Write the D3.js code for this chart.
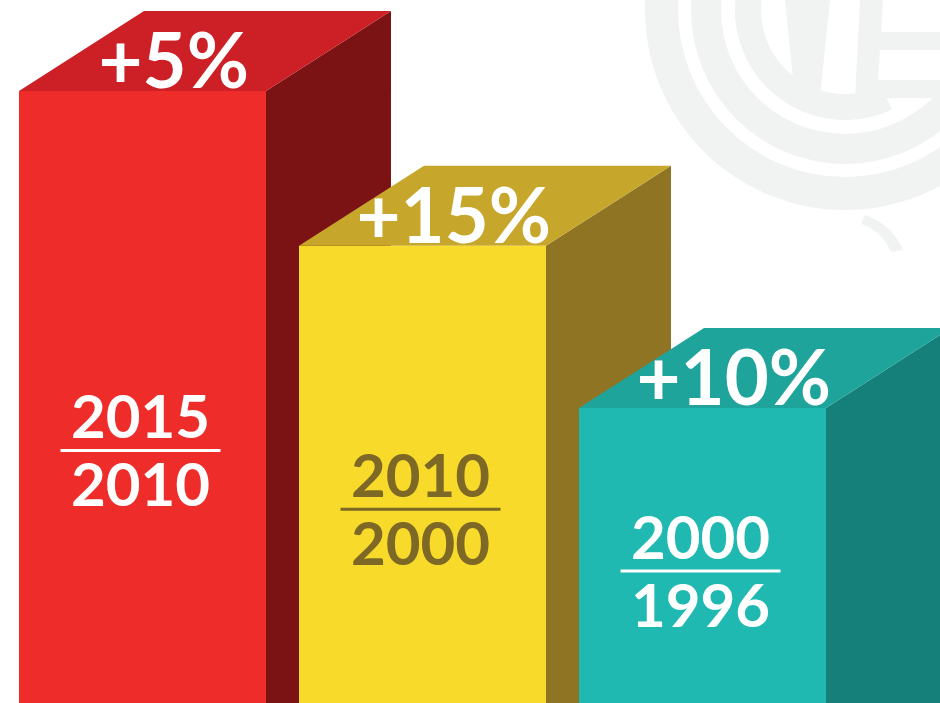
<!DOCTYPE html>
<html>
<head>
<meta charset="utf-8">
<script src="https://cdn.jsdelivr.net/npm/d3@7"></script>
<style>
  html, body { margin: 0; padding: 0; background: #fff; }
  svg { display: block; }
</style>
</head>
<body>
<div id="viz"></div>
<script>
const width = 940;
const height = 703;

// data
const categories = ['2015/2010', '2010/2000', '2000/1996'];
const changes = ['+5%', '+15%', '+10%'];
const barLevel = [100, 74.7, 48.2];
const topYears = ['2015', '2010', '2000'];
const bottomYears = ['2010', '2000', '1996'];

const frontColors = ['#ee2d2b', '#f8da2b', '#1fb9b1'];
const topColors = ['#cc1f26', '#c6a72b', '#1fa49c'];
const sideColors = ['#7b1315', '#8f7424', '#148079'];
const labelColors = ['#ffffff', '#7d6826', '#ffffff'];

const depth = { dx: 125, dy: 80 };

const svg = d3.select('#viz')
  .append('svg')
    .attr('width', width)
    .attr('height', height);

// faint logo watermark in the corner
const logo = svg.append('g')
    .attr('transform', 'translate(845, 10)')
    .attr('fill', '#f1f2f2');

const rings = [
  { r0: 167, r1: 200, a0: 0, a1: 2 * Math.PI },
  { r0: 124, r1: 154, a0: 0, a1: 2 * Math.PI },
  { r0: 84, r1: 110, a0: 2.7, a1: 6.0 }
];
logo.selectAll('path.ring')
  .data(rings)
  .join('path')
    .attr('class', 'ring')
    .attr('d', d => d3.arc()({ innerRadius: d.r0, outerRadius: d.r1, startAngle: d.a0, endAngle: d.a1 }));

// letter strokes inside the rings
logo.append('path')
    .attr('d', 'M-60,-10 L-15,-10 L-25,88 L-50,88 Z');
logo.append('path')
    .attr('d', 'M15,-10 L38,-10 L32,88 L10,88 Z');
logo.append('path')
    .attr('d', 'M30,22 L100,22 L100,40 L28,40 Z');
logo.append('path')
    .attr('d', 'M24,70 L100,70 L100,88 L22,88 Z');
logo.append('path')
    .attr('d', 'M20,205 C40,212 52,225 58,240 L46,242 C40,228 30,218 16,214 Z');

const x = d3.scaleBand()
    .domain(categories)
    .range([19, 826])
    .paddingInner(0.118)
    .paddingOuter(0);

const y = d3.scaleLinear()
    .domain([0, 100])
    .range([height, 91]);

const bars = svg.selectAll('g.bar')
  .data(categories)
  .join('g')
    .attr('class', 'bar');

const w = x.bandwidth();

// side face
bars.append('path')
    .attr('fill', (d, i) => sideColors[i])
    .attr('d', (d, i) => {
      const x1 = x(d) + w, yt = y(barLevel[i]);
      return `M${x1},${yt} L${x1 + depth.dx},${yt - depth.dy} L${x1 + depth.dx},${height} L${x1},${height} Z`;
    });

// top face
bars.append('path')
    .attr('fill', (d, i) => topColors[i])
    .attr('d', (d, i) => {
      const x0 = x(d), yt = y(barLevel[i]);
      return `M${x0},${yt} L${x0 + w},${yt} L${x0 + w + depth.dx},${yt - depth.dy} L${x0 + depth.dx},${yt - depth.dy} Z`;
    });

// front face
bars.append('rect')
    .attr('x', d => x(d))
    .attr('y', (d, i) => y(barLevel[i]))
    .attr('width', w)
    .attr('height', (d, i) => height - y(barLevel[i]))
    .attr('fill', (d, i) => frontColors[i]);

// percentage change on the top face
bars.append('text')
    .attr('x', d => x(d) + w / 2 + depth.dx * 0.25)
    .attr('y', (d, i) => y(barLevel[i]) - 3)
    .attr('text-anchor', 'middle')
    .attr('fill', '#ffffff')
    .style('font-family', 'Lato, "Open Sans", sans-serif')
    .style('font-weight', 700)
    .style('font-size', '76px')
    .text((d, i) => changes[i]);

// year fraction on the front face
const frac = bars.append('g')
    .attr('transform', (d, i) => {
      const yt = y(barLevel[i]);
      const lineY = yt + (height - yt) * 0.62 - 20;
      return `translate(${x(d) + w / 2 - 2}, ${lineY})`;
    });

frac.append('text')
    .attr('y', -12)
    .attr('text-anchor', 'middle')
    .attr('fill', (d, i) => labelColors[i])
    .style('font-family', 'Lato, "Open Sans", sans-serif')
    .style('font-weight', 700)
    .style('font-size', '60px')
    .text((d, i) => topYears[i]);

frac.append('line')
    .attr('x1', -80)
    .attr('x2', 80)
    .attr('stroke', (d, i) => labelColors[i])
    .attr('stroke-width', 3);

frac.append('text')
    .attr('y', 56)
    .attr('text-anchor', 'middle')
    .attr('fill', (d, i) => labelColors[i])
    .style('font-family', 'Lato, "Open Sans", sans-serif')
    .style('font-weight', 700)
    .style('font-size', '60px')
    .text((d, i) => bottomYears[i]);
</script>
</body>
</html>
